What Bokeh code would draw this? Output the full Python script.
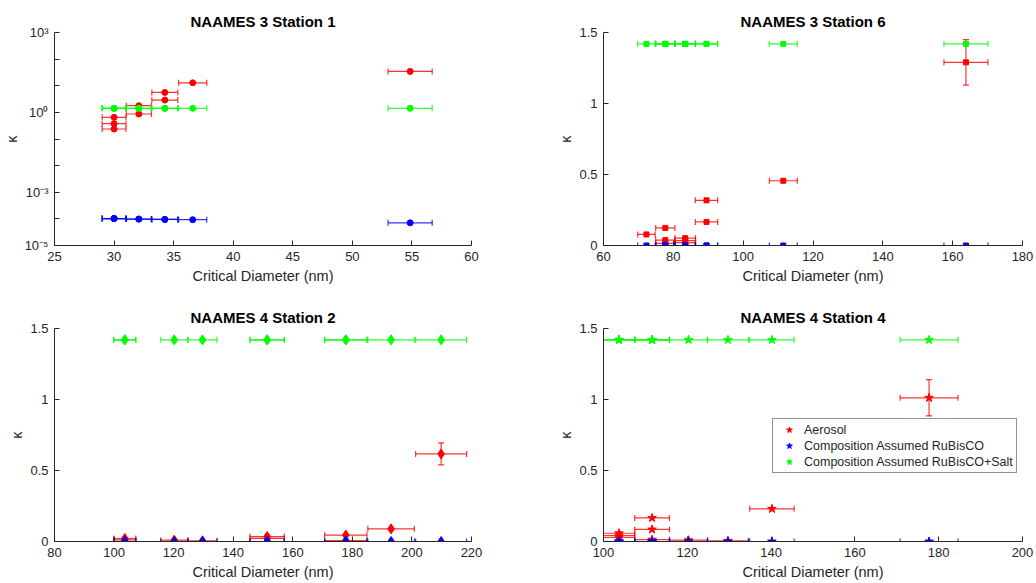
from bokeh.plotting import figure
from bokeh.models import (Range1d, Whisker, TeeHead, ColumnDataSource, FixedTicker,
                          CustomJSTickFormatter, Legend, LegendItem)
from bokeh.layouts import gridplot
from bokeh.embed import file_html
from bokeh.resources import INLINE

FONT = "Liberation Sans"
TEXT = "#262626"
RED, BLUE, GREEN = "#FF0000", "#0000FF", "#00FF00"

series_names = ["Aerosol", "Composition Assumed RuBisCO", "Composition Assumed RuBisCO+Salt"]
titles = ["NAAMES 3 Station 1", "NAAMES 3 Station 6", "NAAMES 4 Station 2", "NAAMES 4 Station 4"]
x_label = "Critical Diameter (nm)"
y_label = "κ"

# ---- NAAMES 3 Station 1 (log kappa axis) ----
n3s1_dc = [30.0, 30.0, 30.0, 32.08, 32.08, 34.26, 34.26, 36.6, 54.85]
n3s1_dc_err = [1.0, 1.0, 1.0, 1.05, 1.05, 1.09, 1.09, 1.18, 1.85]
n3s1_aerosol = [0.65, 0.376, 0.237, 1.78, 0.87, 5.6, 2.9, 12.9, 34.6]
n3s1_aerosol_err = [0.0, 0.0, 0.0, 0.0, 0.0, 0.0, 0.0, 0.0, 0.0]
n3s1_rubisco = [1.03e-4, 1.03e-4, 1.03e-4, 9.8e-5, 9.8e-5, 9.5e-5, 9.5e-5, 9.3e-5, 7.1e-5]
n3s1_salt = [1.42, 1.42, 1.42, 1.42, 1.42, 1.42, 1.42, 1.42, 1.42]
n3s1_log_ticks = [1e-5, 1e-4, 1e-3, 1e-2, 1e-1, 1e0, 1e1, 1e2, 1e3]
n3s1_log_labels = {"3": "10³", "0": "10⁰", "-3": "10⁻³", "-5": "10⁻⁵"}

# ---- NAAMES 3 Station 6 ----
n3s6_dc = [72.3, 77.7, 77.7, 77.7, 83.4, 83.4, 83.4, 89.5, 89.5, 111.5, 163.8]
n3s6_dc_err = [2.5, 2.75, 2.75, 2.75, 2.95, 2.95, 2.95, 3.2, 3.2, 4.0, 6.3]
n3s6_aerosol = [0.078, 0.124, 0.038, 0.015, 0.052, 0.035, 0.02, 0.318, 0.166, 0.456, 1.29]
n3s6_aerosol_err = [0.0, 0.0, 0.0, 0.0, 0.0, 0.0, 0.0, 0.0, 0.0, 0.0, 0.16]
n3s6_rubisco = [1.0e-4, 1.0e-4, 1.0e-4, 1.0e-4, 1.0e-4, 1.0e-4, 1.0e-4, 1.0e-4, 1.0e-4, 1.0e-4, 1.0e-4]
n3s6_salt = [1.42, 1.42, 1.42, 1.42, 1.42, 1.42, 1.42, 1.42, 1.42, 1.42, 1.42]

# ---- NAAMES 4 Station 2 ----
n4s2_dc = [103.6, 103.6, 120.2, 129.7, 151.4, 151.4, 177.8, 177.8, 193.0, 209.8]
n4s2_dc_err = [3.7, 3.7, 4.5, 4.85, 5.75, 5.75, 7.1, 7.1, 7.8, 8.55]
n4s2_aerosol = [0.021, 0.012, 0.009, 0.005, 0.035, 0.022, 0.045, 0.006, 0.089, 0.617]
n4s2_aerosol_err = [0.0, 0.0, 0.0, 0.0, 0.0, 0.0, 0.0, 0.0, 0.0, 0.078]
n4s2_rubisco = [1.0e-4, 1.0e-4, 1.0e-4, 1.0e-4, 1.0e-4, 1.0e-4, 1.0e-4, 1.0e-4, 1.0e-4, 1.0e-4]
n4s2_salt = [1.42, 1.42, 1.42, 1.42, 1.42, 1.42, 1.42, 1.42, 1.42, 1.42]

# ---- NAAMES 4 Station 4 ----
n4s4_dc = [103.7, 103.7, 103.7, 111.6, 111.6, 111.6, 120.3, 129.7, 140.2, 177.7]
n4s4_dc_err = [3.75, 3.75, 3.75, 4.15, 4.15, 4.15, 4.55, 4.9, 5.3, 6.9]
n4s4_aerosol = [0.058, 0.042, 0.028, 0.166, 0.085, 0.013, 0.009, 0.005, 0.230, 1.012]
n4s4_aerosol_err = [0.0, 0.0, 0.0, 0.0, 0.0, 0.0, 0.0, 0.0, 0.0, 0.128]
n4s4_rubisco = [1.0e-4, 1.0e-4, 1.0e-4, 1.0e-4, 1.0e-4, 1.0e-4, 1.0e-4, 1.0e-4, 1.0e-4, 1.0e-4]
n4s4_salt = [1.42, 1.42, 1.42, 1.42, 1.42, 1.42, 1.42, 1.42, 1.42, 1.42]

lin_y_ticks = [0, 0.5, 1, 1.5]


def make_fig(title, x_range, y_range, x_ticks, y_ticks, borders, size, log_y=False):
    left, right, top, bottom = borders
    w, h = size
    p = figure(width=w, height=h, x_range=Range1d(*x_range), y_range=Range1d(*y_range),
               y_axis_type="log" if log_y else "linear",
               output_backend="svg", toolbar_location=None, tools="",
               min_border_left=left, min_border_right=right,
               min_border_top=top, min_border_bottom=bottom,
               background_fill_color="white", border_fill_color="white")
    p.outline_line_color = None
    p.grid.visible = False
    p.title.text = title
    p.title.align = "center"
    p.title.text_font = FONT
    p.title.text_font_size = "15px"
    p.title.text_font_style = "bold"
    p.title.text_color = "black"
    p.title.standoff = 6
    for ax in (p.xaxis[0], p.yaxis[0]):
        ax.axis_line_color = TEXT
        ax.axis_line_width = 1
        ax.major_tick_line_color = TEXT
        ax.major_tick_in = 5
        ax.major_tick_out = 0
        ax.minor_tick_line_color = None
        ax.major_label_text_font = FONT
        ax.major_label_text_font_size = "13px"
        ax.major_label_text_color = TEXT
        ax.major_label_standoff = 6
        ax.axis_label_text_font = FONT
        ax.axis_label_text_font_size = "14.5px"
        ax.axis_label_text_font_style = "normal"
        ax.axis_label_text_color = TEXT
    p.xaxis.ticker = FixedTicker(ticks=x_ticks)
    p.yaxis.ticker = FixedTicker(ticks=y_ticks)
    p.xaxis.axis_label = x_label
    p.xaxis.axis_label_standoff = 4
    p.yaxis.axis_label = y_label
    p.yaxis.axis_label_standoff = 2
    return p


def draw_series(p, dc, dc_err, kappa, kappa_err, color, marker, size):
    xs_lo = [d - e for d, e in zip(dc, dc_err)]
    xs_hi = [d + e for d, e in zip(dc, dc_err)]
    src = ColumnDataSource(dict(x=dc, y=kappa, lo=xs_lo, hi=xs_hi))
    p.add_layout(Whisker(source=src, base="y", lower="lo", upper="hi", dimension="width",
                         line_color=color, line_width=1.2, line_alpha=0.8,
                         lower_head=TeeHead(size=6, line_color=color, line_width=1.2, line_alpha=0.8),
                         upper_head=TeeHead(size=6, line_color=color, line_width=1.2, line_alpha=0.8)))
    idx = [i for i, e in enumerate(kappa_err) if e > 0]
    if idx:
        ysrc = ColumnDataSource(dict(
            x=[dc[i] for i in idx],
            lo=[kappa[i] - kappa_err[i] for i in idx],
            hi=[kappa[i] + kappa_err[i] for i in idx]))
        p.add_layout(Whisker(source=ysrc, base="x", lower="lo", upper="hi", dimension="height",
                             line_color=color, line_width=1.2, line_alpha=0.8,
                             lower_head=TeeHead(size=6, line_color=color, line_width=1.2, line_alpha=0.8),
                             upper_head=TeeHead(size=6, line_color=color, line_width=1.2, line_alpha=0.8)))
    return p.scatter(x="x", y="y", source=src, marker=marker, size=size,
                     fill_color=color, line_color=color)


def draw_panel(p, dc, dc_err, aerosol, aerosol_err, rubisco, salt, marker, size):
    zeros = [0.0 for _ in dc]
    r1 = draw_series(p, dc, dc_err, aerosol, aerosol_err, RED, marker, size)
    r2 = draw_series(p, dc, dc_err, rubisco, zeros, BLUE, marker, size)
    r3 = draw_series(p, dc, dc_err, salt, zeros, GREEN, marker, size)
    return [r1, r2, r3]


p1 = make_fig(titles[0], (25, 60), (1e-5, 1e3), [25, 30, 35, 40, 45, 50, 55, 60],
              n3s1_log_ticks, (54, 47, 32, 46), (518, 291), log_y=True)
p1.yaxis.formatter = CustomJSTickFormatter(args=dict(labels=n3s1_log_labels), code="""
    const e = String(Math.round(Math.log10(tick)));
    return (e in labels) ? labels[e] : "";
""")
draw_panel(p1, n3s1_dc, n3s1_dc_err, n3s1_aerosol, n3s1_aerosol_err, n3s1_rubisco, n3s1_salt,
           "circle", 6)

p2 = make_fig(titles[1], (60, 180), (0, 1.5), [60, 80, 100, 120, 140, 160, 180],
              lin_y_ticks, (85, 14, 32, 46), (518, 291))
draw_panel(p2, n3s6_dc, n3s6_dc_err, n3s6_aerosol, n3s6_aerosol_err, n3s6_rubisco, n3s6_salt,
           "square", 5)

p3 = make_fig(titles[2], (80, 220), (0, 1.5), [80, 100, 120, 140, 160, 180, 200, 220],
              lin_y_ticks, (54, 47, 37, 42), (518, 292))
draw_panel(p3, n4s2_dc, n4s2_dc_err, n4s2_aerosol, n4s2_aerosol_err, n4s2_rubisco, n4s2_salt,
           "diamond", 10)

p4 = make_fig(titles[3], (100, 200), (0, 1.5), [100, 120, 140, 160, 180, 200],
              lin_y_ticks, (85, 14, 37, 42), (518, 292))
rs = draw_panel(p4, n4s4_dc, n4s4_dc_err, n4s4_aerosol, n4s4_aerosol_err, n4s4_rubisco, n4s4_salt,
                "star", 9)

legend = Legend(items=[LegendItem(label=n, renderers=[r]) for n, r in zip(series_names, rs)],
                location=(169, 68), padding=3, spacing=1,
                glyph_width=26, glyph_height=15, label_height=15, label_standoff=2,
                label_text_font=FONT, label_text_font_size="12.5px", label_text_color=TEXT,
                border_line_color=TEXT, border_line_width=1,
                background_fill_color="white", background_fill_alpha=1)
p4.add_layout(legend)

grid = gridplot([[p1, p2], [p3, p4]], toolbar_location=None)

with open("out.html", "w") as f:
    f.write(file_html(grid, INLINE))
